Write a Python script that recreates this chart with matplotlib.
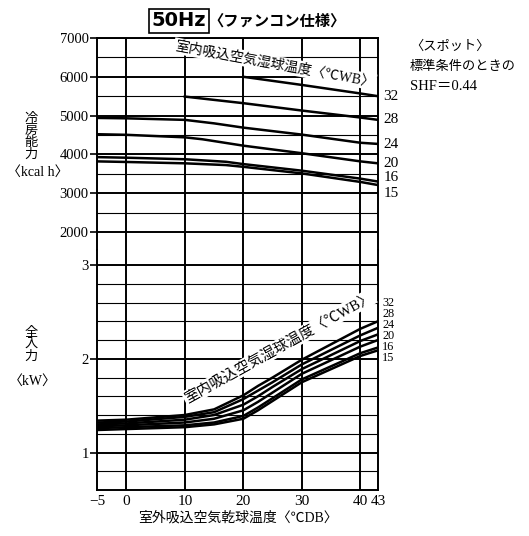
import matplotlib.pyplot as plt
import numpy as np

plt.rcParams['font.family'] = ['Liberation Serif', 'Noto Sans CJK JP']

# indoor wet bulb temperatures (deg C WB)
wb = ['32', '28', '24', '20', '16', '15']

# cooling capacity (kcal/h) vs outdoor dry bulb temperature
cap_x = {
    '32': [20, 30, 40, 43],
    '28': [10, 20, 30, 40, 43],
    '24': [-5, 0, 10, 15, 20, 30, 40, 43],
    '20': [-5, 0, 10, 13, 20, 30, 40, 43],
    '16': [-5, 0, 10, 17, 20, 30, 40, 43],
    '15': [-5, 0, 10, 17, 20, 30, 40, 43],
}
cap_y = {
    '32': [6000, 5790, 5570, 5500],
    '28': [5490, 5320, 5130, 4950, 4890],
    '24': [4940, 4930, 4890, 4800, 4690, 4510, 4300, 4270],
    '20': [4520, 4505, 4440, 4390, 4225, 4030, 3820, 3770],
    '16': [3930, 3915, 3875, 3810, 3750, 3580, 3375, 3300],
    '15': [3820, 3805, 3770, 3725, 3680, 3510, 3290, 3210],
}

# power input (kW) vs outdoor dry bulb temperature
pw_x = [-5, 0, 10, 15, 20, 22.5, 25, 30, 40, 43]
pw_y = {
    '32': [1.34, 1.35, 1.40, 1.46, 1.61, 1.71, 1.80, 1.99, 2.32, 2.40],
    '28': [1.32, 1.33, 1.38, 1.43, 1.57, 1.66, 1.75, 1.94, 2.25, 2.33],
    '24': [1.30, 1.31, 1.35, 1.40, 1.51, 1.60, 1.70, 1.89, 2.19, 2.26],
    '20': [1.28, 1.29, 1.32, 1.36, 1.45, 1.54, 1.64, 1.84, 2.13, 2.20],
    '16': [1.26, 1.27, 1.29, 1.32, 1.39, 1.48, 1.58, 1.78, 2.06, 2.12],
    '15': [1.24, 1.25, 1.27, 1.30, 1.36, 1.45, 1.55, 1.75, 2.03, 2.09],
}

xticks = [-5, 0, 10, 20, 30, 40, 43]
xlabels = ['−5', '0', '10', '20', '30', '40', '43']

fig = plt.figure(figsize=(5.29, 5.36), dpi=100)
L = 97 / 529
W = (378 - 97) / 529
ax1 = fig.add_axes([L, 1 - 250 / 536, W, (250 - 38) / 536])
ax2 = fig.add_axes([L, 1 - 490 / 536, W, (490 - 250) / 536])

for ax in (ax1, ax2):
    ax.set_xlim(-5, 43)
    for v in [0, 10, 20, 30, 40]:
        ax.axvline(v, color='k', lw=1.4, zorder=1)
    for s in ax.spines.values():
        s.set_linewidth(1.4)
    ax.tick_params(axis='y', direction='out', length=5, width=1.2, labelsize=10.5, pad=1)
    ax.tick_params(axis='x', length=0)

# upper: capacity
ax1.set_ylim(1536, 7000)
ax1.spines['bottom'].set_visible(False)
ax1.set_xticks([])
ax1.set_yticks([2000, 3000, 4000, 5000, 6000, 7000])
for v in range(2000, 7001, 500):
    ax1.axhline(v, color='k', lw=1.4 if v % 1000 == 0 else 0.8, zorder=1)
for k in wb:
    ax1.plot(cap_x[k], cap_y[k], color='k', lw=1.8, zorder=3)

cap_lab_y = [5480, 4887, 4268, 3778, 3392, 3005]
for k, yy in zip(wb, cap_lab_y):
    ax1.text(43.9, yy, k, fontsize=11, va='center', ha='left', clip_on=False)

ax1.text(25.4, 6330, '室内吸込空気湿球温度〈℃WB〉', fontsize=10, rotation=-10.5,
         ha='center', va='center', rotation_mode='anchor', zorder=5,
         bbox=dict(facecolor='white', edgecolor='none', pad=1))

# lower: power input
ax2.set_ylim(0.6, 3.16)
ax2.spines['top'].set_visible(False)
ax2.set_yticks([1, 2, 3])
ax2.set_xticks(xticks)
ax2.set_xticklabels(xlabels, fontsize=11)
for v in np.arange(0.8, 3.01, 0.2):
    major = abs(v - round(v)) < 1e-6
    ax2.axhline(v, color='k', lw=1.4 if major else 0.8, zorder=1)
for k in wb:
    ax2.plot(pw_x, pw_y[k], color='k', lw=1.8, zorder=3)

pw_lab_y = [2.595, 2.477, 2.36, 2.243, 2.125, 2.008]
for k, yy in zip(wb, pw_lab_y):
    ax2.text(43.7, yy, k, fontsize=8.8, va='center', ha='left', clip_on=False)

ax2.text(26.1, 2.12, '室内吸込空気湿球温度〈℃WB〉', fontsize=10.5, rotation=29,
         ha='center', va='center', rotation_mode='anchor', zorder=5,
         bbox=dict(facecolor='white', edgecolor='none', pad=1))

ax2.set_xlabel('室外吸込空気乾球温度〈℃DB〉', fontsize=10, labelpad=2)

# titles and side texts
fig.text(179 / 529, 1 - 21 / 536, '50Hz', fontsize=14, fontweight='bold',
         family='DejaVu Sans', ha='center', va='center',
         bbox=dict(facecolor='none', edgecolor='k', lw=1.2, pad=2))
fig.text(208 / 529, 1 - 21 / 536, '〈ファンコン仕様〉', fontsize=11, fontweight='bold',
         ha='left', va='center')

fig.text(410 / 529, 1 - 47 / 536, '〈スポット〉', fontsize=9.5, ha='left', va='center')
fig.text(410 / 529, 1 - 67 / 536, '標準条件のときの', fontsize=9.5, ha='left', va='center')
fig.text(410 / 529, 1 - 87 / 536, 'SHF＝0.44', fontsize=10.5, ha='left', va='center')

fig.text(31 / 529, 1 - 137 / 536, '冷\n房\n能\n力', fontsize=9.5, ha='center', va='center',
         linespacing=1.0)
fig.text(38 / 529, 1 - 172 / 536, '〈kcal h〉', fontsize=10, ha='center', va='center')
fig.text(31 / 529, 1 - 345 / 536, '全\n入\n力', fontsize=9.5, ha='center', va='center',
         linespacing=1.0)
fig.text(33 / 529, 1 - 381 / 536, '〈kW〉', fontsize=10, ha='center', va='center')

fig.savefig('out.png', dpi=100)
